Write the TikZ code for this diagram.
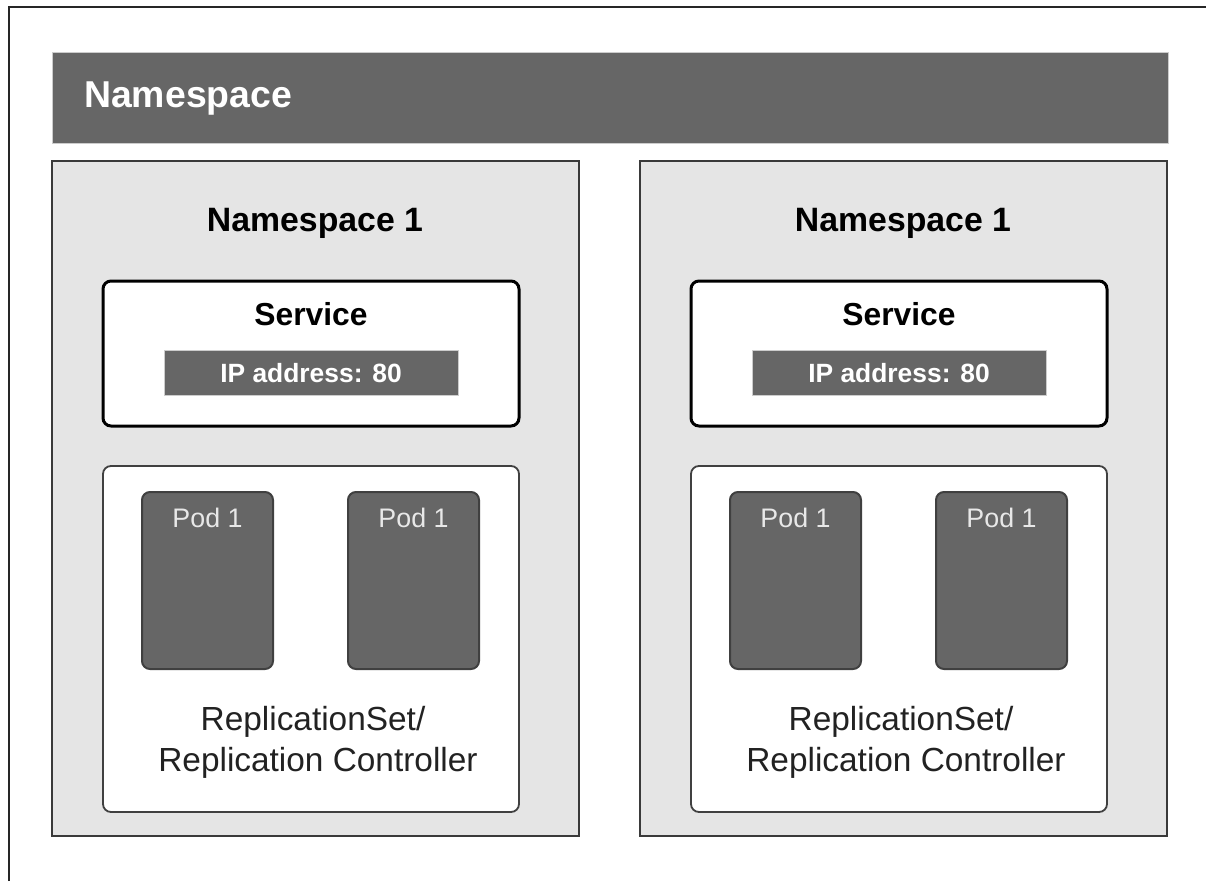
\documentclass[tikz,border=0pt]{standalone}
\usepackage{fontspec}
\setmainfont{Liberation Sans}
\definecolor{bar}{HTML}{666666}
\definecolor{nsfill}{HTML}{E5E5E5}
\definecolor{nsline}{HTML}{3A3A3A}
\definecolor{podline}{HTML}{404040}
\definecolor{podtext}{HTML}{E8E8E8}
\definecolor{rstext}{HTML}{222222}
\tikzset{
  txt/.style={inner sep=0pt, anchor=base},
  nsbox/.style={fill=nsfill, draw=nsline, line width=2pt},
  svcbox/.style={fill=white, draw=black, line width=3pt, rounded corners=8pt},
  rsbox/.style={fill=white, draw=podline, line width=1.8pt, rounded corners=8pt},
  podbox/.style={fill=bar, draw=podline, line width=2pt, rounded corners=8pt},
  ipbar/.style={fill=bar, draw=black!20, line width=0.6pt},
}
\begin{document}
\begin{tikzpicture}[x=1pt,y=-1pt]
\useasboundingbox (0,0) rectangle (1206,881);
% outer frame
\draw[line width=2pt, draw=black!85] (9,881) -- (9,7) -- (1206,7);
% banner
\fill[bar, draw=black!20, line width=0.6pt] (52,52) rectangle (1168,143);
\node[txt, anchor=base west, text=white, font=\bfseries\fontsize{37.4}{40}\selectfont] (banner) at (84,107) {Namespace};
\foreach \o/\k in {0/a,588/b}{
  \begin{scope}[xshift=\o]
  \draw[nsbox] (52,161) rectangle (579,836);
  \node[txt, font=\bfseries\fontsize{33.8}{36}\selectfont] (ns\k) at (315,231) {Namespace 1};
  \draw[svcbox] (103,281) rectangle (519,426);
  \node[txt, font=\bfseries\fontsize{31.8}{34}\selectfont] (svc\k) at (311,325) {Service};
  \draw[ipbar] (164,350) rectangle (458,395);
  \node[txt, text=white, font=\bfseries\fontsize{26.4}{28}\selectfont] (ip\k) at (311,382) {IP address: 80};
  \draw[rsbox] (103,466) rectangle (519,812);
  \draw[podbox] (142,492) rectangle (273,669);
  \draw[podbox] (348,492) rectangle (479,669);
  \node[txt, text=podtext, font=\fontsize{26.8}{28}\selectfont] (podl\k) at (207.5,527) {Pod 1};
  \node[txt, text=podtext, font=\fontsize{26.8}{28}\selectfont] (podr\k) at (413.5,527) {Pod 1};
  \node[txt, text=rstext, font=\fontsize{33.4}{36}\selectfont] (rsa\k) at (313,730) {ReplicationSet/};
  \node[txt, text=rstext, font=\fontsize{33.4}{36}\selectfont] (rsb\k) at (318,771) {Replication Controller};
  \end{scope}
}
\end{tikzpicture}
\end{document}
